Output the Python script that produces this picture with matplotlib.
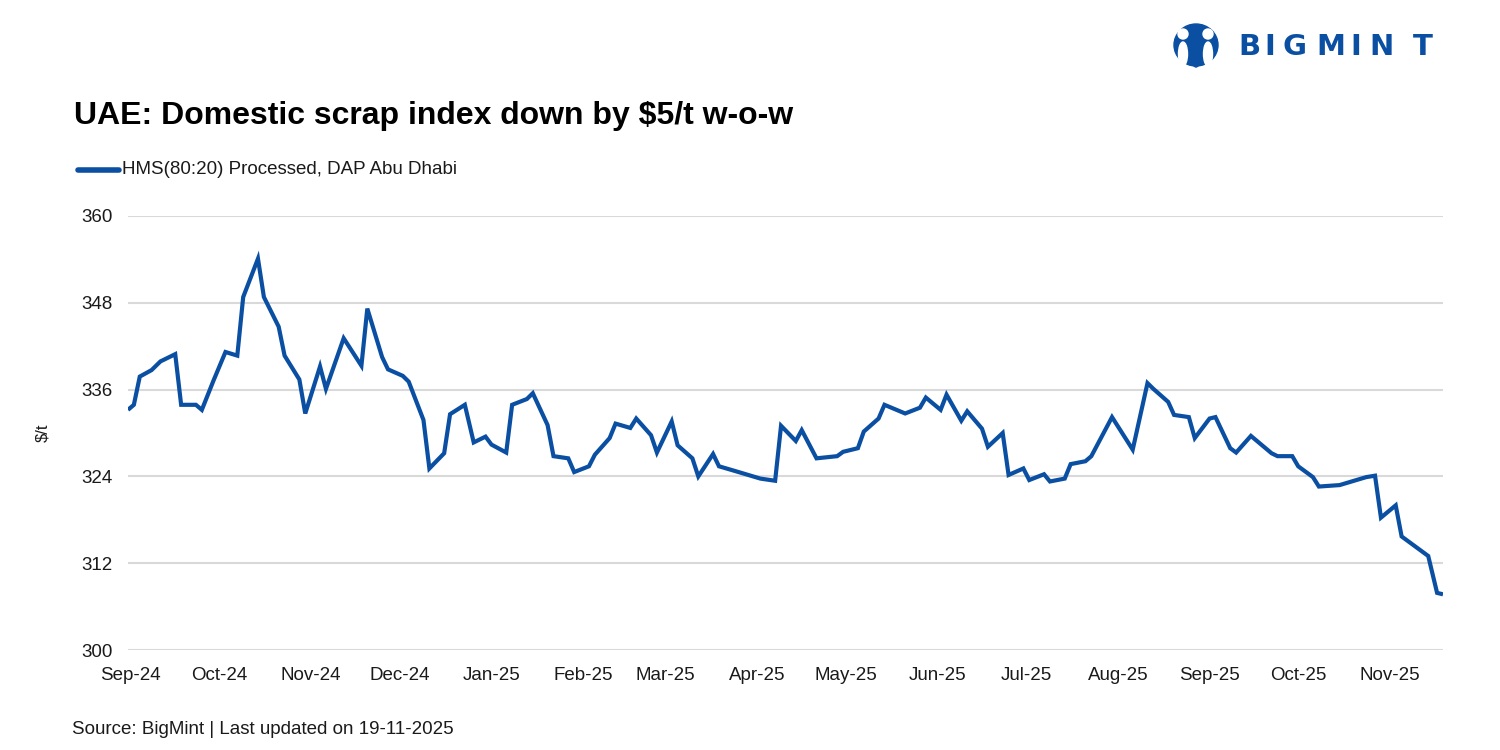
import pandas as pd
import matplotlib
matplotlib.use("Agg")
import matplotlib.pyplot as plt
import matplotlib.dates as mdates
from matplotlib.patches import Ellipse

plt.rcParams['font.family'] = ['Liberation Sans', 'DejaVu Sans']

# data (twice-weekly assessments)
dates = [
    "2024-08-31", "2024-09-02", "2024-09-04", "2024-09-08", "2024-09-11", "2024-09-16",
    "2024-09-18", "2024-09-23", "2024-09-25", "2024-09-29", "2024-10-03", "2024-10-07",
    "2024-10-09", "2024-10-14", "2024-10-16", "2024-10-21", "2024-10-23", "2024-10-28",
    "2024-10-30", "2024-11-04", "2024-11-06", "2024-11-12", "2024-11-18", "2024-11-20",
    "2024-11-25", "2024-11-27", "2024-12-02", "2024-12-04", "2024-12-09", "2024-12-11",
    "2024-12-16", "2024-12-18", "2024-12-23", "2024-12-26", "2024-12-30", "2025-01-01",
    "2025-01-06", "2025-01-08", "2025-01-13", "2025-01-15", "2025-01-20", "2025-01-22",
    "2025-01-27", "2025-01-29", "2025-02-03", "2025-02-05", "2025-02-10", "2025-02-12",
    "2025-02-17", "2025-02-19", "2025-02-24", "2025-02-26", "2025-03-03", "2025-03-05",
    "2025-03-10", "2025-03-12", "2025-03-17", "2025-03-19", "2025-03-24", "2025-04-02",
    "2025-04-07", "2025-04-09", "2025-04-14", "2025-04-16", "2025-04-21", "2025-04-28",
    "2025-04-30", "2025-05-05", "2025-05-07", "2025-05-12", "2025-05-14", "2025-05-21",
    "2025-05-26", "2025-05-28", "2025-06-02", "2025-06-04", "2025-06-09", "2025-06-11",
    "2025-06-16", "2025-06-18", "2025-06-23", "2025-06-25", "2025-06-30", "2025-07-02",
    "2025-07-07", "2025-07-09", "2025-07-14", "2025-07-16", "2025-07-21", "2025-07-23",
    "2025-07-30", "2025-08-06", "2025-08-11", "2025-08-13", "2025-08-18", "2025-08-20",
    "2025-08-25", "2025-08-27", "2025-09-01", "2025-09-03", "2025-09-08", "2025-09-10",
    "2025-09-15", "2025-09-22", "2025-09-24", "2025-09-29", "2025-10-01", "2025-10-06",
    "2025-10-08", "2025-10-15", "2025-10-24", "2025-10-27", "2025-10-29", "2025-11-03",
    "2025-11-05", "2025-11-14", "2025-11-17", "2025-11-19",
]
hms_price = [
    333.2, 333.9, 337.8, 338.7, 339.9, 340.9,
    333.9, 333.9, 333.2, 337.3, 341.2, 340.7,
    348.8, 354.1, 348.8, 344.7, 340.7, 337.4,
    332.7, 339.2, 336.1, 343.1, 339.3, 347.2,
    340.5, 338.8, 337.9, 337.1, 331.8, 325.1,
    327.2, 332.6, 333.9, 328.7, 329.5, 328.4,
    327.3, 333.9, 334.7, 335.5, 331.1, 326.8,
    326.5, 324.6, 325.4, 327.0, 329.3, 331.3,
    330.7, 332.0, 329.7, 327.3, 331.6, 328.3,
    326.5, 324.0, 327.1, 325.4, 324.8, 323.7,
    323.4, 331.0, 328.9, 330.4, 326.5, 326.8,
    327.4, 327.9, 330.2, 332.0, 333.9, 332.7,
    333.5, 334.9, 333.2, 335.3, 331.7, 333.0,
    330.6, 328.1, 330.0, 324.2, 325.1, 323.5,
    324.3, 323.3, 323.7, 325.7, 326.1, 326.8,
    332.2, 327.7, 336.9, 336.1, 334.3, 332.5,
    332.2, 329.3, 332.0, 332.2, 327.9, 327.3,
    329.6, 327.2, 326.8, 326.8, 325.4, 323.9,
    322.6, 322.8, 323.9, 324.1, 318.3, 320.0,
    315.7, 313.0, 307.9, 307.7,
]
y_ticks = [300, 312, 324, 336, 348, 360]

series_name = "HMS(80:20) Processed, DAP Abu Dhabi"
blue = "#0b4fa3"
text_col = "#1a1a1a"

x = pd.to_datetime(dates)

fig = plt.figure(figsize=(15, 7.5), dpi=100)
ax = fig.add_axes([0.0853, 0.1333, 0.8767, 0.5787])

ax.plot(x, hms_price, color=blue, lw=3.0, solid_joinstyle='miter', solid_capstyle='butt')

ax.set_ylim(300, 360)
ax.set_yticks(y_ticks)
ax.set_xlim(x[0], x[-1])
ax.xaxis.set_major_locator(mdates.MonthLocator())
ax.xaxis.set_major_formatter(mdates.DateFormatter('%b-%y'))
ax.grid(axis='y', color='#d9d9d9', lw=1.5)
ax.set_axisbelow(True)
for s in ax.spines.values():
    s.set_visible(False)
ax.tick_params(length=0, labelsize=13.5, labelcolor=text_col)
ax.tick_params(axis='y', pad=11)
ax.tick_params(axis='x', pad=12)
ax.set_ylabel("\\$/t", fontsize=12, color=text_col, labelpad=22)

# title, legend, source
fig.text(0.049, 0.845, "UAE: Domestic scrap index down by \\$5/t w-o-w",
         fontsize=23, fontweight='bold', color='black', va='center')
fig.add_artist(plt.Line2D([0.052, 0.0795], [0.7735, 0.7735], color=blue, lw=4,
                          solid_capstyle='round', transform=fig.transFigure))
fig.text(0.081, 0.7735, series_name, fontsize=13.5, color=text_col, va='center')
fig.text(0.048, 0.028, "Source: BigMint | Last updated on 19-11-2025",
         fontsize=13.5, color=text_col, va='center')

# logo (sizes given in pixels, converted to figure fractions)
def px(w, h):
    return w / 1500, h / 750

def at(xp, yp):
    return xp / 1500, 1 - yp / 750

fig.add_artist(Ellipse(at(1196, 45), *px(44, 42), color=blue, transform=fig.transFigure))
for cx in (1183, 1208):
    fig.add_artist(Ellipse(at(cx, 34), *px(10, 10), color='white', transform=fig.transFigure))
    fig.add_artist(Ellipse(at(cx, 54), *px(9, 24), color='white', transform=fig.transFigure))
fig.add_artist(Ellipse(at(1196, 62), *px(6, 10), color=blue, transform=fig.transFigure))

logo_letters = "BIGMINT"
logo_x = [1249, 1270, 1294, 1331, 1356, 1382, 1423]
for letter, lx in zip(logo_letters, logo_x):
    fig.text(*at(lx, 47), letter, fontsize=21, fontweight='bold', family='DejaVu Sans',
             color=blue, ha='center', va='center')

fig.savefig("out.png", dpi=100)
